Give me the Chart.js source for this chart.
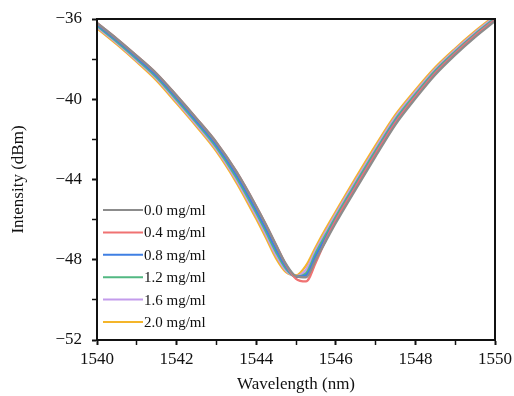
<!DOCTYPE html>
<html>
<head>
<meta charset="utf-8">
<script src="https://cdn.jsdelivr.net/npm/chart.js@4/dist/chart.umd.min.js"></script>
<style>
  html, body { margin: 0; padding: 0; background: #fff; }
  #wrap { width: 514px; height: 396px; }
</style>
</head>
<body>
<div id="wrap"><canvas id="chart" width="514" height="396"></canvas></div>
<script>
// wavelengths (nm) shared by all curves
const wavelengths = [1540, 1540.5, 1541, 1541.5, 1542, 1542.5, 1543, 1543.5, 1544, 1544.25, 1544.5, 1544.75,
    1545, 1545.25, 1545.5, 1545.75, 1546, 1546.5, 1547, 1547.5, 1548, 1548.5, 1549, 1549.5, 1550];

const labels = ['0.0 mg/ml', '0.4 mg/ml', '0.8 mg/ml', '1.2 mg/ml', '1.6 mg/ml', '2.0 mg/ml'];
const colors = ['#8c8c8c', '#f07272', '#3f7fe3', '#52b882', '#c39cec', '#f4b52a'];

const conc00 = [-36.2, -36.99, -37.84, -38.73, -39.82, -40.96, -42.15, -43.6, -45.33, -46.27, -47.27, -48.22,
    -48.82, -48.88, -47.98, -47.07, -46.17, -44.49, -42.85, -41.26, -39.97, -38.78, -37.79, -36.9, -36.1];
const conc04 = [-36.2, -36.99, -37.84, -38.73, -39.82, -40.96, -42.15, -43.6, -45.33, -46.27, -47.27, -48.25,
    -48.95, -49.08, -48.12, -47.0, -46.03, -44.36, -42.72, -41.15, -39.87, -38.69, -37.71, -36.83, -36.04];
const conc08 = [-36.28, -37.07, -37.93, -38.83, -39.93, -41.08, -42.28, -43.76, -45.52, -46.47, -47.47, -48.35,
    -48.85, -48.78, -47.8, -46.9, -46.0, -44.32, -42.69, -41.11, -39.85, -38.67, -37.7, -36.82, -36.02];
const conc12 = [-36.34, -37.14, -38.0, -38.91, -40.02, -41.17, -42.39, -43.89, -45.66, -46.62, -47.62, -48.45,
    -48.85, -48.68, -47.65, -46.75, -45.86, -44.19, -42.56, -41.0, -39.75, -38.58, -37.62, -36.75, -35.96];
const conc16 = [-36.4, -37.2, -38.07, -38.99, -40.11, -41.27, -42.49, -44.02, -45.81, -46.78, -47.78, -48.55,
    -48.82, -48.5, -47.5, -46.6, -45.72, -44.05, -42.43, -40.88, -39.64, -38.49, -37.54, -36.68, -35.89];
const conc20 = [-36.46, -37.27, -38.14, -39.07, -40.2, -41.36, -42.6, -44.14, -45.96, -46.93, -47.93, -48.62,
    -48.78, -48.3, -47.35, -46.45, -45.6, -43.92, -42.3, -40.77, -39.54, -38.41, -37.47, -36.61, -35.83];

const series = [conc00, conc04, conc08, conc12, conc16, conc20];

const serif = '"Liberation Serif", "Times New Roman", serif';

// box around the plot + legend drawn inside the plot area
const framePlugin = {
    id: 'frame',
    afterDraw(chart) {
        const { ctx, chartArea: a } = chart;
        ctx.save();
        ctx.strokeStyle = '#111';
        ctx.lineWidth = 2;
        ctx.strokeRect(a.left, a.top, a.right - a.left, a.bottom - a.top);

        ctx.font = '15px ' + serif;
        ctx.textBaseline = 'middle';
        ctx.fillStyle = '#111';
        chart.data.datasets.forEach((ds, i) => {
            const y = a.top + 191 + i * 22.4;
            ctx.strokeStyle = ds.borderColor;
            ctx.lineWidth = 2;
            ctx.beginPath();
            ctx.moveTo(a.left + 6, y);
            ctx.lineTo(a.left + 46, y);
            ctx.stroke();
            ctx.fillText(ds.label, a.left + 47, y + 1);
        });
        ctx.restore();
    }
};

new Chart(document.getElementById('chart'), {
    type: 'line',
    data: {
        datasets: series.map((vals, i) => ({
            label: labels[i],
            data: wavelengths.map((w, j) => ({ x: w, y: vals[j] })),
            borderColor: colors[i],
            borderWidth: 2.3,
            pointRadius: 0,
            cubicInterpolationMode: 'monotone',
            fill: false
        }))
    },
    options: {
        responsive: false,
        animation: false,
        layout: { padding: { top: 19, right: 19, left: 0, bottom: 0 } },
        plugins: {
            legend: { display: false },
            tooltip: { enabled: false }
        },
        scales: {
            x: {
                type: 'linear',
                min: 1540,
                max: 1550,
                afterFit(scale) {
                    scale.height = 56;
                    scale.paddingLeft = 0;
                    scale.paddingRight = 0;
                },
                border: { color: '#111', width: 2 },
                grid: {
                    drawOnChartArea: false,
                    tickLength: 5,
                    tickColor: '#111',
                    tickWidth: c => (c.tick && c.tick.value % 2 === 0 ? 2 : 1.5)
                },
                ticks: {
                    stepSize: 1,
                    autoSkip: false,
                    maxRotation: 0,
                    padding: 4,
                    color: '#111',
                    font: { family: serif, size: 17 },
                    callback: v => (v % 2 === 0 ? String(v) : '')
                },
                title: {
                    display: true,
                    text: 'Wavelength (nm)',
                    color: '#111',
                    font: { family: serif, size: 17 },
                    padding: { top: 4, bottom: 1 }
                }
            },
            y: {
                min: -52,
                max: -36,
                afterFit(scale) {
                    scale.width = 97;
                    scale.paddingTop = 0;
                    scale.paddingBottom = 0;
                },
                border: { color: '#111', width: 2 },
                grid: {
                    drawOnChartArea: false,
                    tickLength: 5,
                    tickColor: '#111',
                    tickWidth: c => (c.tick && c.tick.value % 4 === 0 ? 2 : 1.5)
                },
                ticks: {
                    stepSize: 2,
                    autoSkip: false,
                    padding: 10,
                    color: '#111',
                    font: { family: serif, size: 17 },
                    callback: v => (v % 4 === 0 ? '\u2212' + Math.abs(v) : '')
                },
                title: {
                    display: true,
                    text: 'Intensity (dBm)',
                    color: '#111',
                    font: { family: serif, size: 17 },
                    padding: { top: 8, bottom: 4 }
                }
            }
        }
    },
    plugins: [framePlugin]
});
</script>
</body>
</html>
